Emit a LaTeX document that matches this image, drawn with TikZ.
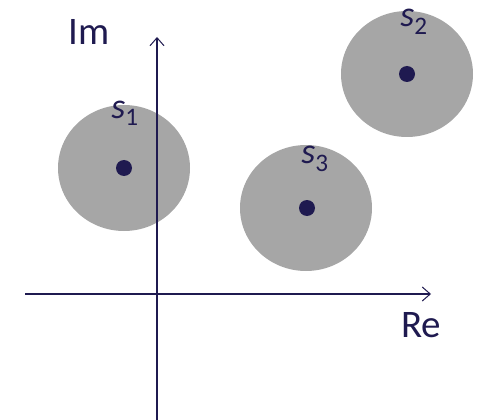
\documentclass[tikz,border=0pt]{standalone}
\usepackage{fontspec}
\setmainfont{Carlito}
\usetikzlibrary{arrows.meta}
\definecolor{navy}{HTML}{1F1A50}
\definecolor{disk}{HTML}{A6A6A6}
\begin{document}
\begin{tikzpicture}[x=1pt,y=-1pt,
  pole/.style={circle,fill=navy,inner sep=0pt,minimum size=16pt},
  axis/.style={draw=navy,line width=1.2pt,-{Straight Barb[length=8pt,width=14pt,line width=1pt]}},
  lbl/.style={text=navy,font=\fontsize{39}{41}\selectfont,inner sep=0pt},
  slbl/.style={text=navy,font=\fontsize{36}{38}\selectfont\itshape,inner sep=0pt,anchor=base}]
\useasboundingbox (0,0) rectangle (480,420);
\fill[disk] (124,168) ellipse [x radius=66, y radius=63];
\fill[disk] (407,74) ellipse [x radius=66, y radius=63];
\fill[disk] (306,208) ellipse [x radius=66, y radius=63];
\coordinate (yb) at (157,420);
\coordinate (yt) at (157,37);
\coordinate (xl) at (25,294);
\coordinate (xr) at (431,294);
\draw[axis] (yb) -- (yt);
\draw[axis] (xl) -- (xr);
\node[pole] (p1) at (124,168) {};
\node[pole] (p2) at (407,74) {};
\node[pole] (p3) at (307,208) {};
\node[slbl] (s1) at (125,118) {s\textsubscript{\upshape 1}};
\node[slbl] (s2) at (414,27) {s\textsubscript{\upshape 2}};
\node[slbl] (s3) at (315,164) {s\textsubscript{\upshape 3}};
\node[lbl] (im) at (89,32) {Im};
\node[lbl] (re) at (421,325) {Re};
\end{tikzpicture}
\end{document}
